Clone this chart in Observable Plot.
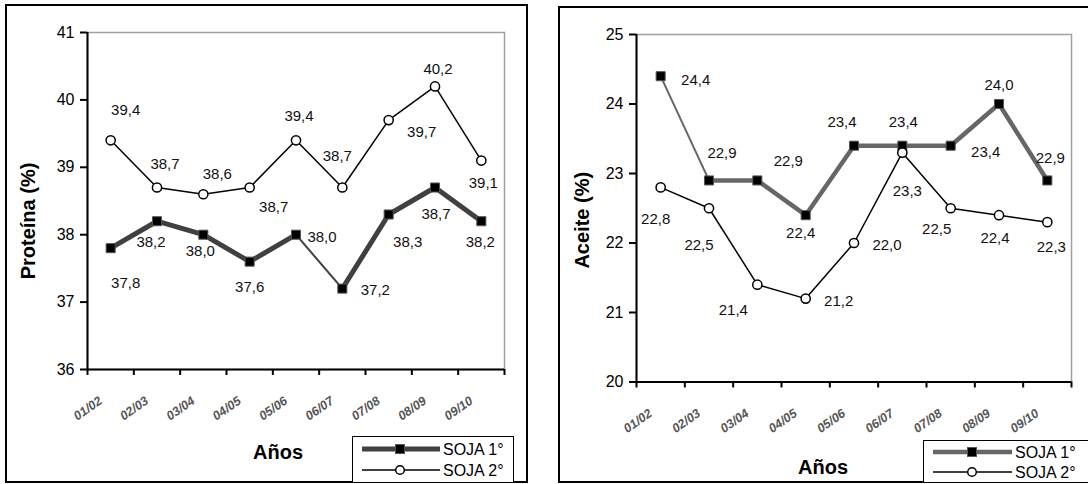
<!DOCTYPE html>
<html><head><meta charset="utf-8">
<script src="https://cdn.jsdelivr.net/npm/d3@7"></script>
<script src="https://cdn.jsdelivr.net/npm/@observablehq/plot@0.6"></script>
<style>
body{margin:0;background:#fff;font-family:"Liberation Sans",Arial,sans-serif}
#wrap{position:relative;width:1088px;height:484px;overflow:hidden;background:#fff}
.box{position:absolute;border:2px solid #000;box-sizing:border-box}
.legend{position:absolute;border:1.5px solid #000;background:#fff;box-sizing:border-box;overflow:hidden}
#wrap > svg{position:absolute;top:0}
</style></head><body><div id="wrap"></div>
<script>
// ---- data ----
const seasons = ["01/02","02/03","03/04","04/05","05/06","06/07","07/08","08/09","09/10"];
const seriesNames = ["SOJA 1°","SOJA 2°"];
const proteinaSoja1 = [37.8,38.2,38.0,37.6,38.0,37.2,38.3,38.7,38.2];
const proteinaSoja2 = [39.4,38.7,38.6,38.7,39.4,38.7,39.7,40.2,39.1];
const aceiteSoja1 = [24.4,22.9,22.9,22.4,23.4,23.4,23.4,24.0,22.9];
const aceiteSoja2 = [22.8,22.5,21.4,21.2,22.0,23.3,22.5,22.4,22.3];
const proteinaTicks = [36,37,38,39,40,41];
const aceiteTicks = [20,21,22,23,24,25];

// ---- label placement (pixel offsets from each point) ----
const proteinaOff1 = [[15,35],[-6,21],[-3,16],[0,26],[26,2],[33,2],[19,28],[1,27],[-1,21]];
const proteinaOff2 = [[15,-30],[8,-23],[14,-20],[24,20],[3,-24],[-5,-31],[33,12],[3,-17],[2,23]];
const aceiteOff1 = [[35,4],[13,-27],[31,-19],[-5,18],[-12,-24],[1,-24],[35,6],[0,-19],[3,-22]];
const aceiteOff2 = [[-5,32],[-10,37],[-24,25],[33,3],[33,2],[5,39],[-14,21],[-4,23],[4,25]];

const wrap = document.getElementById("wrap");
const fmt = v => v.toFixed(1).replace(".", ",");

function panel(cfg) {
  const n = seasons.length;
  const rows1 = cfg.s1.map((v,i)=>({i, v}));
  const rows2 = cfg.s2.map((v,i)=>({i, v}));
  // group thick runs, broken at thin segments
  let g = 0;
  rows1.forEach((r,i)=>{ r.g = g; if (cfg.thin.includes(i)) g++; });
  const thinLinks = cfg.thin.map(i=>({x1:i, y1:cfg.s1[i], x2:i+1, y2:cfg.s1[i+1]}));
  const bounds = d3.range(n+1).map(k=>k-0.5);
  const labelMarks = (rows, offs) => rows.map((r,k)=>Plot.text([r], {
    x:"i", y:"v", text: d=>fmt(d.v), dx: offs[k][0], dy: offs[k][1],
    fontSize: 15, fill: "#111"
  }));
  const svg = Plot.plot({
    width: 544, height: 484,
    marginLeft: cfg.ml, marginRight: 544 - cfg.mr, marginTop: cfg.mt, marginBottom: 484 - cfg.mb,
    style: {fontFamily: "'Liberation Sans', Arial, sans-serif", fontSize: "16px", background: "transparent", overflow: "visible"},
    x: {type: "linear", domain: [-0.5, n-0.5]},
    y: {domain: cfg.domain},
    marks: [
      Plot.frame({stroke: "#a0a0a0", strokeWidth: 1.5}),
      Plot.ruleX([-0.5], {stroke: "#000", strokeWidth: 2}),
      Plot.ruleY([cfg.domain[0]], {stroke: "#000", strokeWidth: 2}),
      Plot.axisY({ticks: cfg.ticks, tickSize: 7, tickPadding: 6, fontSize: 16, label: null, tickFormat: d=>String(d), strokeWidth: 2}),
      Plot.axisX({ticks: bounds, tickSize: 6, tickFormat: ()=>"", label: null, strokeWidth: 2}),
      Plot.text(seasons, {x: (d,i)=>i, frameAnchor: "bottom", lineAnchor: "middle", dx: -10, dy: 30, rotate: -35, textAnchor: "end", fontSize: 12.5, fontWeight: "bold", fontStyle: "italic", fill: "#555"}),
      Plot.text([cfg.ytitle], {frameAnchor: "left", textAnchor: "middle", lineAnchor: "middle", dx: cfg.tdx, dy: cfg.tdy, rotate: -90, fontSize: 20, fontWeight: "bold", fill: "#000"}),
      Plot.text(["Años"], {frameAnchor: "bottom", textAnchor: "middle", lineAnchor: "middle", dx: cfg.adx, dy: cfg.ady, fontSize: 20, fontWeight: "bold", fill: "#000"}),
      Plot.line(rows1, {x: "i", y: "v", z: "g", stroke: cfg.c1, strokeWidth: cfg.w1, strokeLinejoin: "miter"}),
      Plot.link(thinLinks, {x1: "x1", y1: "y1", x2: "x2", y2: "y2", stroke: cfg.c1, strokeWidth: 2}),
      Plot.dot(rows1, {x: "i", y: "v", symbol: "square", r: 5.1, fill: "#000", stroke: "#555", strokeWidth: 1}),
      Plot.line(rows2, {x: "i", y: "v", stroke: "#000", strokeWidth: 1.5}),
      Plot.dot(rows2, {x: "i", y: "v", symbol: "circle", r: 4.6, fill: "#fff", stroke: "#000", strokeWidth: 1.5}),
      ...labelMarks(rows1, cfg.off1),
      ...labelMarks(rows2, cfg.off2)
    ]
  });
  svg.style.left = cfg.left + "px";

  const box = document.createElement("div");
  box.className = "box";
  Object.assign(box.style, cfg.box);
  wrap.appendChild(box);
  wrap.appendChild(svg);

  const leg = document.createElement("div");
  leg.className = "legend";
  Object.assign(leg.style, cfg.leg);
  wrap.appendChild(leg);
  const ls = d3.select(leg).append("svg").attr("width", 200).attr("height", 50)
    .style("position","absolute").style("left","-1.5px").style("top","-1.5px")
    .style("font-family","'Liberation Sans', Arial, sans-serif");
  const L = cfg.legL;
  ls.append("line").attr("x1", L.x1).attr("x2", L.x2).attr("y1", L.y1).attr("y2", L.y1)
    .attr("stroke", cfg.c1).attr("stroke-width", cfg.w1);
  ls.append("rect").attr("x", L.m-4.5).attr("y", L.y1-4.5).attr("width", 9).attr("height", 9)
    .attr("fill", "#000").attr("stroke", "#555");
  ls.append("text").attr("x", L.tx).attr("y", L.y1).attr("dy", "0.35em").attr("font-size", 16).text(seriesNames[0]);
  ls.append("line").attr("x1", L.x1).attr("x2", L.x2).attr("y1", L.y2).attr("y2", L.y2)
    .attr("stroke", "#000").attr("stroke-width", 1.5);
  ls.append("circle").attr("cx", L.m).attr("cy", L.y2).attr("r", 4.3)
    .attr("fill", "#fff").attr("stroke", "#000").attr("stroke-width", 1.5);
  ls.append("text").attr("x", L.tx).attr("y", L.y2).attr("dy", "0.35em").attr("font-size", 16).text(seriesNames[1]);
}

panel({
  left: 0, ml: 87, mr: 504, mt: 32, mb: 369,
  domain: [36, 41], ticks: proteinaTicks, s1: proteinaSoja1, s2: proteinaSoja2,
  thin: [4], c1: "#404040", w1: 5, off1: proteinaOff1, off2: proteinaOff2,
  ytitle: "Proteína (%)", tdx: -59, tdy: 20, adx: -18, ady: 83,
  box: {left: "5px", top: "4px", width: "523px", height: "479px"},
  leg: {left: "352px", top: "436px", width: "162px", height: "47px"},
  legL: {x1: 10, x2: 88, m: 48, tx: 91, y1: 13, y2: 34}
});
panel({
  left: 544, ml: 92, mr: 527, mt: 34, mb: 381.5,
  domain: [20, 25], ticks: aceiteTicks, s1: aceiteSoja1, s2: aceiteSoja2,
  thin: [0], c1: "#666666", w1: 4.5, off1: aceiteOff1, off2: aceiteOff2,
  ytitle: "Aceite (%)", tdx: -54, tdy: 12, adx: -31, ady: 86,
  box: {left: "558px", top: "6px", width: "540px", height: "477px"},
  leg: {left: "923px", top: "440px", width: "180px", height: "43px"},
  legL: {x1: 10, x2: 89, m: 49, tx: 92, y1: 12, y2: 32}
});
</script></body></html>
